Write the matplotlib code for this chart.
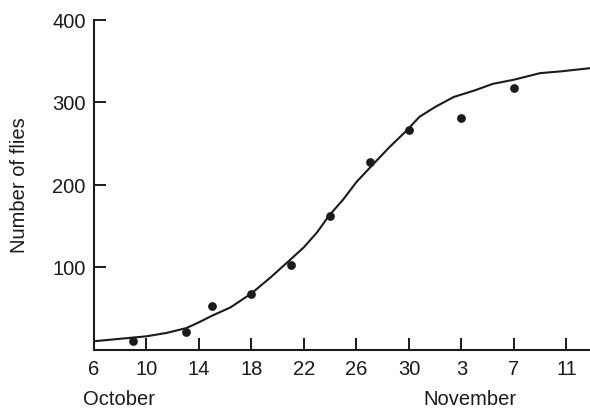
import matplotlib
matplotlib.use("Agg")
import matplotlib.pyplot as plt

plt.rcParams['font.family'] = ['Liberation Sans', 'DejaVu Sans']

# x positions are days after 6 October
tick_days = [0, 4, 8, 12, 16, 20, 24, 28, 32, 36]
tick_labels = ["6", "10", "14", "18", "22", "26", "30", "3", "7", "11"]

# observed counts
obs_days = [3, 7, 9, 12, 15, 18, 21, 24, 28, 32]
obs_values = [10, 21, 53, 67, 103, 162, 227, 266, 280, 317]

# fitted (hand-drawn) curve
curve_days = [0, 2.0, 4.0, 5.5, 7.05, 8.0, 9.0, 10.4, 12.0, 13.5, 14.9, 16.0, 17.0, 17.9,
              19.0, 20.0, 21.3, 22.5, 23.8, 24.8, 26.0, 27.4, 29.0, 30.4, 32.0, 33.0,
              34.0, 35.5, 37.8]
curve_values = [10, 13, 16, 20, 26, 33, 41, 51, 68, 88, 108, 124, 142, 162,
                182, 203, 225, 245, 265, 282, 294, 306, 314, 322, 327, 331,
                335, 337, 341]

ink = '#1c1a1b'
fs = 14.5

fig = plt.figure(figsize=(5.9, 4.1), dpi=100)
ax = fig.add_axes([94/590, 1 - 350.5/410, 1 - 94/590, (350.5 - 20.5)/410])

ax.plot(curve_days, curve_values, color=ink, lw=1.5, solid_capstyle='round')
ax.plot(obs_days, obs_values, 'o', color=ink, markersize=6.3, markeredgewidth=0)

ax.set_xlim(0, 37.8)
ax.set_ylim(0, 400)
ax.set_xticks(tick_days)
ax.set_xticklabels(tick_labels)
ax.set_yticks([100, 200, 300, 400])

for s in ['top', 'right']:
    ax.spines[s].set_visible(False)
for s in ['left', 'bottom']:
    ax.spines[s].set_linewidth(1.5)
    ax.spines[s].set_color(ink)

ax.tick_params(axis='both', direction='in', length=8.5, width=1.4, color=ink,
               labelsize=fs, labelcolor=ink)
ax.tick_params(axis='x', pad=7)
ax.tick_params(axis='y', pad=6)

fig.text(19.5/590, 1 - 185.5/410, "Number of flies", rotation=90, ha='center', va='center',
         fontsize=fs, color=ink)
fig.text(83/590, 1 - 400/410, "October", ha='left', va='center', fontsize=fs, color=ink)
fig.text(469.5/590, 1 - 400/410, "November", ha='center', va='center', fontsize=fs, color=ink)

fig.savefig("out.png", dpi=100)
